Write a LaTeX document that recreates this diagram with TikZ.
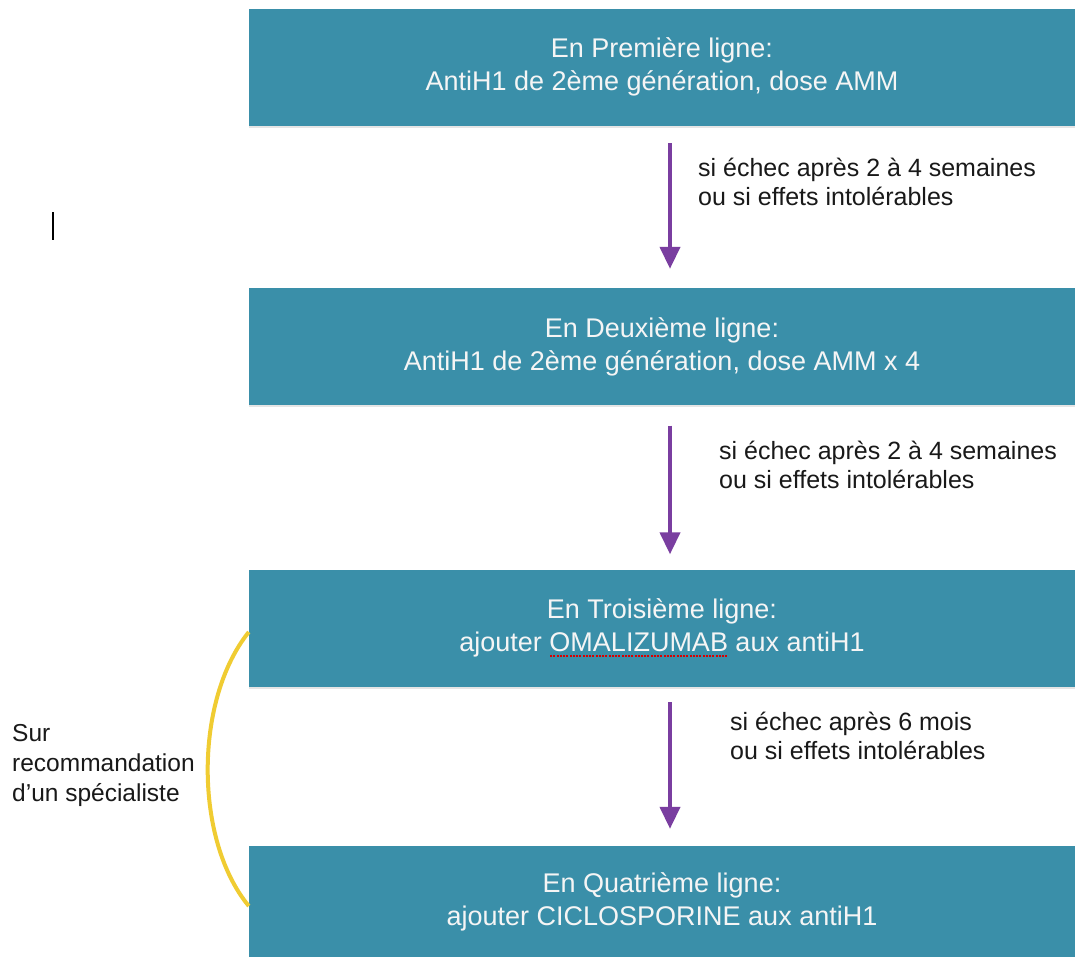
\documentclass[tikz,border=0pt]{standalone}
\usepackage{fontspec}
\setmainfont{Liberation Sans}
\usetikzlibrary{arrows.meta,shadows}
\definecolor{boxblue}{RGB}{58,143,169}
\definecolor{arrpurple}{RGB}{122,62,160}
\definecolor{curveyellow}{RGB}{240,204,50}
\newcommand\spellmark[1]{\setbox0\hbox{#1}\rlap{\raisebox{-5pt}{\color{red!85!black}\hbox to \wd0{\xleaders\hbox to 3.2pt{\hss\rule{2pt}{2pt}\hss}\hfill}}}\box0\relax}
\begin{document}
\begin{tikzpicture}[x=1pt,y=-1pt,
  stepbox/.style={fill=boxblue, minimum width=826pt, minimum height=117pt, inner sep=0pt,
    text=white!96!black, align=center, font=\fontsize{27}{33}\selectfont,
    drop shadow={shadow xshift=0pt, shadow yshift=-2pt, opacity=0.2}},
  flow/.style={draw=arrpurple, line width=4pt, -{Triangle[width=20pt,length=22pt]}},
  lbl/.style={anchor=north west, inner sep=0pt, align=left, font=\fontsize{25}{29}\selectfont, text=black!90},
  sidelbl/.style={anchor=north west, inner sep=0pt, align=left, font=\fontsize{24.5}{30}\selectfont, text=black!90},
  bracket/.style={draw=curveyellow, line width=4pt}
]
\useasboundingbox (0,0) rectangle (1075,956);
\fill[white] (0,0) rectangle (1075,956);

\node[stepbox] (b1) at (662,67) {En Première ligne:\\AntiH1 de 2ème génération, dose AMM};
\node[stepbox] (b2) at (662,346.5) {En Deuxième ligne:\\AntiH1 de 2ème génération, dose AMM x 4};
\node[stepbox] (b3) at (662,628) {En Troisième ligne:\\ajouter \spellmark{OMALIZUMAB} aux antiH1};
\node[stepbox, minimum height=112pt] (b4) at (662,902) {En Quatrième ligne:\\ajouter CICLOSPORINE aux antiH1};

\coordinate (ax) at (670,0);
\draw[flow, shorten <=17.5pt, shorten >=19pt] (b1.south -| ax) -- (b2.north -| ax);
\draw[flow, shorten <=20.5pt, shorten >=15pt] (b2.south -| ax) -- (b3.north -| ax);
\draw[flow, shorten <=15.5pt, shorten >=17pt] (b3.south -| ax) -- (b4.north -| ax);

\node[lbl] (l1) at (698,158) {si échec après 2 à 4 semaines\\ou si effets intolérables};
\node[lbl] (l2) at (719,441) {si échec après 2 à 4 semaines\\ou si effets intolérables};
\node[lbl] (l3) at (730,712) {si échec après 6 mois\\ou si effets intolérables};

\draw[bracket] ([yshift=-4pt]b3.west) .. controls (194,700) and (194,840) .. ([yshift=-4pt]b4.west);
\node[sidelbl] (side) at (12,724) {Sur\\recommandation\\d’un spécialiste};

\draw[black, line width=2pt] (53,212) -- (53,240);
\end{tikzpicture}
\end{document}
